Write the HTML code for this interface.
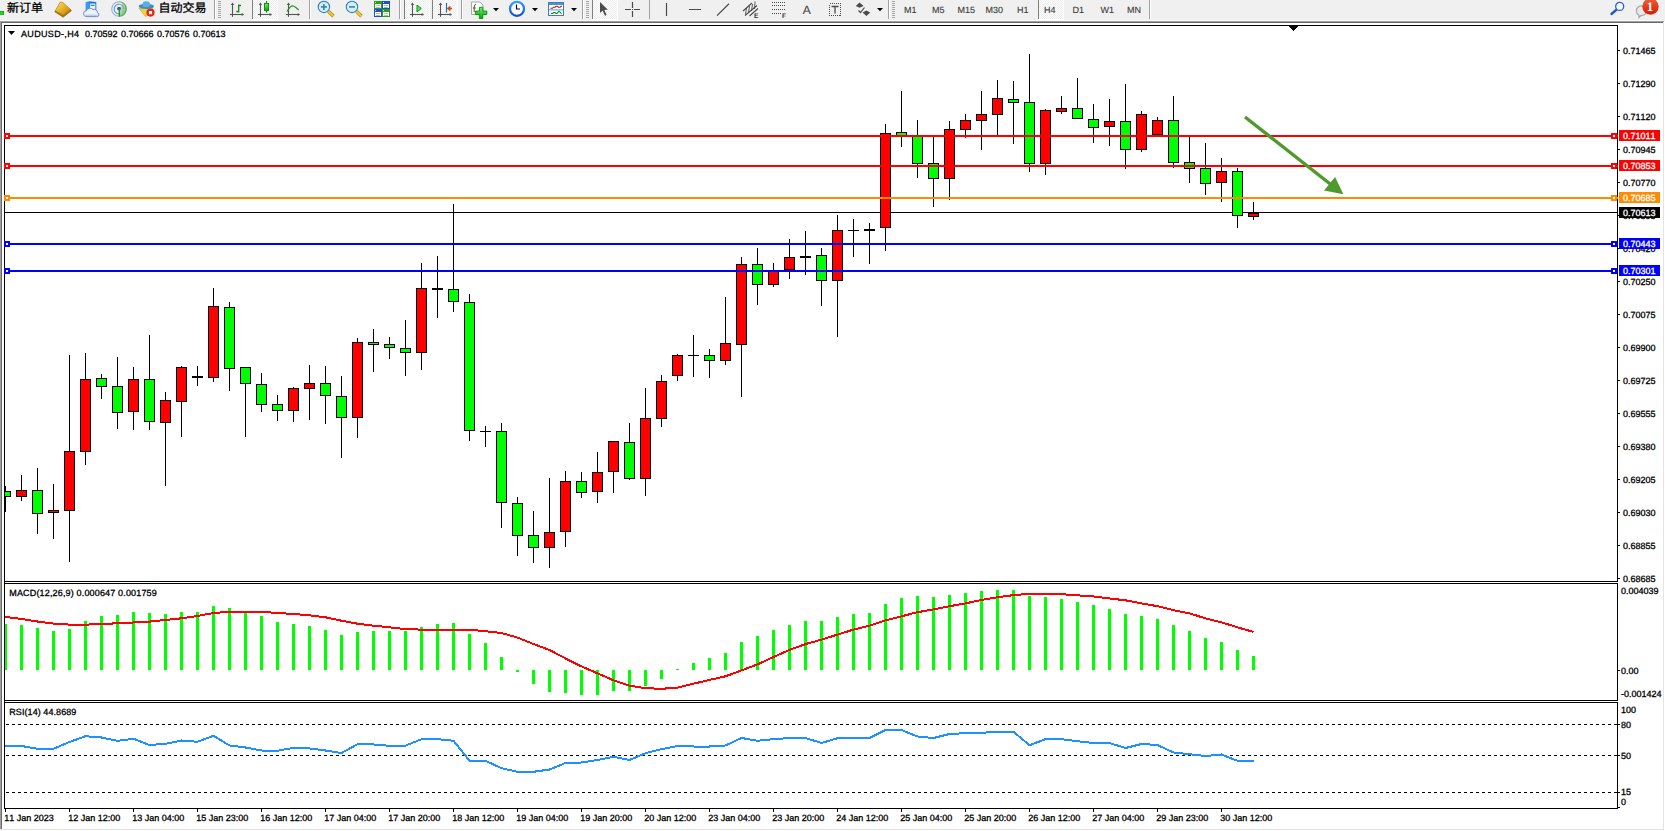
<!DOCTYPE html>
<html lang="zh-CN">
<head>
<meta charset="utf-8">
<title>AUDUSD-,H4</title>
<style>
html,body{margin:0;padding:0;background:#FFFFFF;overflow:hidden;}
body{width:1665px;height:831px;position:relative;font-family:"Liberation Sans","Noto Sans CJK SC",sans-serif;}
svg text{white-space:pre;font-kerning:none;}
</style>
</head>
<body>
<svg width="1665" height="831" viewBox="0 0 1665 831" style="display:block;position:absolute;left:0;top:0" text-rendering="geometricPrecision">
<rect x="0" y="0" width="1665" height="831" fill="#FFFFFF"/>
<rect x="0" y="0" width="1665" height="20" fill="#F0F0F0"/>
<rect x="0" y="20" width="1665" height="1" fill="#FAFAFA"/>
<rect x="0" y="21" width="1664" height="1" fill="#A0A0A0"/>
<rect x="1" y="22" width="1663" height="1" fill="#696969"/>
<rect x="0" y="21" width="1" height="808" fill="#A0A0A0"/>
<rect x="1" y="22" width="1" height="807" fill="#696969"/>
<rect x="1663" y="22" width="1" height="808" fill="#E3E3E3"/>
<rect x="0" y="829" width="1664" height="1" fill="#E3E3E3"/>
<rect x="1664" y="0" width="1" height="21" fill="#F0F0F0"/>
<g shape-rendering="crispEdges">
<rect x="4" y="25" width="1614" height="1" fill="#000"/>
<rect x="4" y="25" width="1" height="784" fill="#000"/>
<rect x="1617" y="25" width="1" height="784" fill="#000"/>
<rect x="4" y="581" width="1614" height="1" fill="#000"/>
<rect x="4" y="583" width="1614" height="1" fill="#000"/>
<rect x="4" y="700" width="1614" height="1" fill="#000"/>
<rect x="4" y="702" width="1614" height="1" fill="#000"/>
<rect x="4" y="808" width="1614" height="1" fill="#000"/>
<rect x="5" y="582" width="1613" height="1" fill="#FFF"/>
<rect x="5" y="701" width="1613" height="1" fill="#FFF"/>
<polygon points="1288.5,25.5 1298.5,25.5 1293.5,31" fill="#000"/>
<rect x="5" y="212" width="1612" height="1" fill="#000"/>
<rect x="5" y="486" width="1" height="26" fill="#000"/>
<rect x="5" y="491" width="6" height="6" fill="#000"/>
<rect x="5" y="492" width="5" height="4" fill="#00FF00"/>
<rect x="21" y="475" width="1" height="26" fill="#000"/>
<rect x="16" y="490" width="11" height="7" fill="#000"/>
<rect x="17" y="491" width="9" height="5" fill="#FF0000"/>
<rect x="37" y="468" width="1" height="66" fill="#000"/>
<rect x="32" y="490" width="11" height="24" fill="#000"/>
<rect x="33" y="491" width="9" height="22" fill="#00FF00"/>
<rect x="53" y="484" width="1" height="55" fill="#000"/>
<rect x="48" y="510" width="11" height="3" fill="#000"/>
<rect x="49" y="511" width="9" height="1" fill="#FF0000"/>
<rect x="69" y="355" width="1" height="207" fill="#000"/>
<rect x="64" y="451" width="11" height="60" fill="#000"/>
<rect x="65" y="452" width="9" height="58" fill="#FF0000"/>
<rect x="85" y="353" width="1" height="112" fill="#000"/>
<rect x="80" y="379" width="11" height="73" fill="#000"/>
<rect x="81" y="380" width="9" height="71" fill="#FF0000"/>
<rect x="101" y="374" width="1" height="25" fill="#000"/>
<rect x="96" y="378" width="11" height="9" fill="#000"/>
<rect x="97" y="379" width="9" height="7" fill="#00FF00"/>
<rect x="117" y="357" width="1" height="72" fill="#000"/>
<rect x="112" y="386" width="11" height="27" fill="#000"/>
<rect x="113" y="387" width="9" height="25" fill="#00FF00"/>
<rect x="133" y="367" width="1" height="63" fill="#000"/>
<rect x="128" y="379" width="11" height="33" fill="#000"/>
<rect x="129" y="380" width="9" height="31" fill="#FF0000"/>
<rect x="149" y="335" width="1" height="95" fill="#000"/>
<rect x="144" y="379" width="11" height="43" fill="#000"/>
<rect x="145" y="380" width="9" height="41" fill="#00FF00"/>
<rect x="165" y="392" width="1" height="94" fill="#000"/>
<rect x="160" y="400" width="11" height="23" fill="#000"/>
<rect x="161" y="401" width="9" height="21" fill="#FF0000"/>
<rect x="181" y="366" width="1" height="71" fill="#000"/>
<rect x="176" y="367" width="11" height="35" fill="#000"/>
<rect x="177" y="368" width="9" height="33" fill="#FF0000"/>
<rect x="197" y="366" width="1" height="20" fill="#000"/>
<rect x="192" y="376" width="11" height="2" fill="#000"/>
<rect x="213" y="288" width="1" height="94" fill="#000"/>
<rect x="208" y="306" width="11" height="72" fill="#000"/>
<rect x="209" y="307" width="9" height="70" fill="#FF0000"/>
<rect x="229" y="302" width="1" height="89" fill="#000"/>
<rect x="224" y="307" width="11" height="62" fill="#000"/>
<rect x="225" y="308" width="9" height="60" fill="#00FF00"/>
<rect x="245" y="367" width="1" height="70" fill="#000"/>
<rect x="240" y="367" width="11" height="17" fill="#000"/>
<rect x="241" y="368" width="9" height="15" fill="#00FF00"/>
<rect x="261" y="373" width="1" height="39" fill="#000"/>
<rect x="256" y="384" width="11" height="21" fill="#000"/>
<rect x="257" y="385" width="9" height="19" fill="#00FF00"/>
<rect x="277" y="395" width="1" height="26" fill="#000"/>
<rect x="272" y="404" width="11" height="7" fill="#000"/>
<rect x="273" y="405" width="9" height="5" fill="#00FF00"/>
<rect x="293" y="387" width="1" height="35" fill="#000"/>
<rect x="288" y="388" width="11" height="23" fill="#000"/>
<rect x="289" y="389" width="9" height="21" fill="#FF0000"/>
<rect x="309" y="365" width="1" height="55" fill="#000"/>
<rect x="304" y="383" width="11" height="6" fill="#000"/>
<rect x="305" y="384" width="9" height="4" fill="#FF0000"/>
<rect x="325" y="366" width="1" height="58" fill="#000"/>
<rect x="320" y="383" width="11" height="13" fill="#000"/>
<rect x="321" y="384" width="9" height="11" fill="#00FF00"/>
<rect x="341" y="376" width="1" height="82" fill="#000"/>
<rect x="336" y="396" width="11" height="22" fill="#000"/>
<rect x="337" y="397" width="9" height="20" fill="#00FF00"/>
<rect x="357" y="338" width="1" height="100" fill="#000"/>
<rect x="352" y="342" width="11" height="76" fill="#000"/>
<rect x="353" y="343" width="9" height="74" fill="#FF0000"/>
<rect x="373" y="329" width="1" height="43" fill="#000"/>
<rect x="368" y="342" width="11" height="3" fill="#000"/>
<rect x="369" y="343" width="9" height="1" fill="#00FF00"/>
<rect x="389" y="337" width="1" height="22" fill="#000"/>
<rect x="384" y="344" width="11" height="4" fill="#000"/>
<rect x="385" y="345" width="9" height="2" fill="#00FF00"/>
<rect x="405" y="320" width="1" height="56" fill="#000"/>
<rect x="400" y="348" width="11" height="5" fill="#000"/>
<rect x="401" y="349" width="9" height="3" fill="#00FF00"/>
<rect x="421" y="263" width="1" height="107" fill="#000"/>
<rect x="416" y="288" width="11" height="65" fill="#000"/>
<rect x="417" y="289" width="9" height="63" fill="#FF0000"/>
<rect x="437" y="256" width="1" height="62" fill="#000"/>
<rect x="432" y="288" width="11" height="2" fill="#000"/>
<rect x="453" y="204" width="1" height="108" fill="#000"/>
<rect x="448" y="289" width="11" height="13" fill="#000"/>
<rect x="449" y="290" width="9" height="11" fill="#00FF00"/>
<rect x="469" y="294" width="1" height="147" fill="#000"/>
<rect x="464" y="302" width="11" height="129" fill="#000"/>
<rect x="465" y="303" width="9" height="127" fill="#00FF00"/>
<rect x="485" y="426" width="1" height="21" fill="#000"/>
<rect x="480" y="431" width="11" height="1" fill="#000"/>
<rect x="501" y="423" width="1" height="105" fill="#000"/>
<rect x="496" y="431" width="11" height="72" fill="#000"/>
<rect x="497" y="432" width="9" height="70" fill="#00FF00"/>
<rect x="517" y="497" width="1" height="59" fill="#000"/>
<rect x="512" y="503" width="11" height="33" fill="#000"/>
<rect x="513" y="504" width="9" height="31" fill="#00FF00"/>
<rect x="533" y="511" width="1" height="52" fill="#000"/>
<rect x="528" y="535" width="11" height="13" fill="#000"/>
<rect x="529" y="536" width="9" height="11" fill="#00FF00"/>
<rect x="549" y="478" width="1" height="90" fill="#000"/>
<rect x="544" y="532" width="11" height="16" fill="#000"/>
<rect x="545" y="533" width="9" height="14" fill="#FF0000"/>
<rect x="565" y="471" width="1" height="76" fill="#000"/>
<rect x="560" y="481" width="11" height="51" fill="#000"/>
<rect x="561" y="482" width="9" height="49" fill="#FF0000"/>
<rect x="581" y="472" width="1" height="26" fill="#000"/>
<rect x="576" y="481" width="11" height="12" fill="#000"/>
<rect x="577" y="482" width="9" height="10" fill="#00FF00"/>
<rect x="597" y="452" width="1" height="51" fill="#000"/>
<rect x="592" y="472" width="11" height="20" fill="#000"/>
<rect x="593" y="473" width="9" height="18" fill="#FF0000"/>
<rect x="613" y="441" width="1" height="52" fill="#000"/>
<rect x="608" y="441" width="11" height="31" fill="#000"/>
<rect x="609" y="442" width="9" height="29" fill="#FF0000"/>
<rect x="629" y="423" width="1" height="57" fill="#000"/>
<rect x="624" y="442" width="11" height="37" fill="#000"/>
<rect x="625" y="443" width="9" height="35" fill="#00FF00"/>
<rect x="645" y="388" width="1" height="108" fill="#000"/>
<rect x="640" y="418" width="11" height="61" fill="#000"/>
<rect x="641" y="419" width="9" height="59" fill="#FF0000"/>
<rect x="661" y="375" width="1" height="52" fill="#000"/>
<rect x="656" y="381" width="11" height="38" fill="#000"/>
<rect x="657" y="382" width="9" height="36" fill="#FF0000"/>
<rect x="677" y="354" width="1" height="27" fill="#000"/>
<rect x="672" y="355" width="11" height="21" fill="#000"/>
<rect x="673" y="356" width="9" height="19" fill="#FF0000"/>
<rect x="693" y="335" width="1" height="42" fill="#000"/>
<rect x="688" y="355" width="11" height="1" fill="#000"/>
<rect x="709" y="349" width="1" height="29" fill="#000"/>
<rect x="704" y="355" width="11" height="6" fill="#000"/>
<rect x="705" y="356" width="9" height="4" fill="#00FF00"/>
<rect x="725" y="297" width="1" height="68" fill="#000"/>
<rect x="720" y="343" width="11" height="18" fill="#000"/>
<rect x="721" y="344" width="9" height="16" fill="#FF0000"/>
<rect x="741" y="257" width="1" height="140" fill="#000"/>
<rect x="736" y="264" width="11" height="81" fill="#000"/>
<rect x="737" y="265" width="9" height="79" fill="#FF0000"/>
<rect x="757" y="248" width="1" height="57" fill="#000"/>
<rect x="752" y="264" width="11" height="21" fill="#000"/>
<rect x="753" y="265" width="9" height="19" fill="#00FF00"/>
<rect x="773" y="263" width="1" height="24" fill="#000"/>
<rect x="768" y="270" width="11" height="15" fill="#000"/>
<rect x="769" y="271" width="9" height="13" fill="#FF0000"/>
<rect x="789" y="239" width="1" height="40" fill="#000"/>
<rect x="784" y="257" width="11" height="13" fill="#000"/>
<rect x="785" y="258" width="9" height="11" fill="#FF0000"/>
<rect x="805" y="231" width="1" height="44" fill="#000"/>
<rect x="800" y="256" width="11" height="2" fill="#000"/>
<rect x="821" y="248" width="1" height="58" fill="#000"/>
<rect x="816" y="255" width="11" height="26" fill="#000"/>
<rect x="817" y="256" width="9" height="24" fill="#00FF00"/>
<rect x="837" y="215" width="1" height="122" fill="#000"/>
<rect x="832" y="230" width="11" height="51" fill="#000"/>
<rect x="833" y="231" width="9" height="49" fill="#FF0000"/>
<rect x="853" y="219" width="1" height="38" fill="#000"/>
<rect x="848" y="230" width="11" height="1" fill="#000"/>
<rect x="869" y="223" width="1" height="41" fill="#000"/>
<rect x="864" y="229" width="11" height="2" fill="#000"/>
<rect x="885" y="124" width="1" height="127" fill="#000"/>
<rect x="880" y="133" width="11" height="95" fill="#000"/>
<rect x="881" y="134" width="9" height="93" fill="#FF0000"/>
<rect x="901" y="91" width="1" height="56" fill="#000"/>
<rect x="896" y="132" width="11" height="4" fill="#000"/>
<rect x="897" y="133" width="9" height="2" fill="#00FF00"/>
<rect x="917" y="120" width="1" height="58" fill="#000"/>
<rect x="912" y="136" width="11" height="28" fill="#000"/>
<rect x="913" y="137" width="9" height="26" fill="#00FF00"/>
<rect x="933" y="137" width="1" height="70" fill="#000"/>
<rect x="928" y="163" width="11" height="16" fill="#000"/>
<rect x="929" y="164" width="9" height="14" fill="#00FF00"/>
<rect x="949" y="121" width="1" height="79" fill="#000"/>
<rect x="944" y="129" width="11" height="50" fill="#000"/>
<rect x="945" y="130" width="9" height="48" fill="#FF0000"/>
<rect x="965" y="114" width="1" height="24" fill="#000"/>
<rect x="960" y="120" width="11" height="10" fill="#000"/>
<rect x="961" y="121" width="9" height="8" fill="#FF0000"/>
<rect x="981" y="91" width="1" height="59" fill="#000"/>
<rect x="976" y="114" width="11" height="7" fill="#000"/>
<rect x="977" y="115" width="9" height="5" fill="#FF0000"/>
<rect x="997" y="80" width="1" height="55" fill="#000"/>
<rect x="992" y="98" width="11" height="17" fill="#000"/>
<rect x="993" y="99" width="9" height="15" fill="#FF0000"/>
<rect x="1013" y="81" width="1" height="63" fill="#000"/>
<rect x="1008" y="99" width="11" height="4" fill="#000"/>
<rect x="1009" y="100" width="9" height="2" fill="#00FF00"/>
<rect x="1029" y="54" width="1" height="118" fill="#000"/>
<rect x="1024" y="102" width="11" height="62" fill="#000"/>
<rect x="1025" y="103" width="9" height="60" fill="#00FF00"/>
<rect x="1045" y="109" width="1" height="66" fill="#000"/>
<rect x="1040" y="110" width="11" height="54" fill="#000"/>
<rect x="1041" y="111" width="9" height="52" fill="#FF0000"/>
<rect x="1061" y="96" width="1" height="18" fill="#000"/>
<rect x="1056" y="108" width="11" height="4" fill="#000"/>
<rect x="1057" y="109" width="9" height="2" fill="#FF0000"/>
<rect x="1077" y="78" width="1" height="41" fill="#000"/>
<rect x="1072" y="108" width="11" height="11" fill="#000"/>
<rect x="1073" y="109" width="9" height="9" fill="#00FF00"/>
<rect x="1093" y="104" width="1" height="39" fill="#000"/>
<rect x="1088" y="119" width="11" height="9" fill="#000"/>
<rect x="1089" y="120" width="9" height="7" fill="#00FF00"/>
<rect x="1109" y="99" width="1" height="47" fill="#000"/>
<rect x="1104" y="121" width="11" height="6" fill="#000"/>
<rect x="1105" y="122" width="9" height="4" fill="#FF0000"/>
<rect x="1125" y="84" width="1" height="85" fill="#000"/>
<rect x="1120" y="121" width="11" height="29" fill="#000"/>
<rect x="1121" y="122" width="9" height="27" fill="#00FF00"/>
<rect x="1141" y="111" width="1" height="41" fill="#000"/>
<rect x="1136" y="114" width="11" height="36" fill="#000"/>
<rect x="1137" y="115" width="9" height="34" fill="#FF0000"/>
<rect x="1157" y="117" width="1" height="18" fill="#000"/>
<rect x="1152" y="120" width="11" height="15" fill="#000"/>
<rect x="1153" y="121" width="9" height="13" fill="#FF0000"/>
<rect x="1173" y="96" width="1" height="72" fill="#000"/>
<rect x="1168" y="120" width="11" height="43" fill="#000"/>
<rect x="1169" y="121" width="9" height="41" fill="#00FF00"/>
<rect x="1189" y="137" width="1" height="46" fill="#000"/>
<rect x="1184" y="162" width="11" height="7" fill="#000"/>
<rect x="1185" y="163" width="9" height="5" fill="#00FF00"/>
<rect x="1205" y="143" width="1" height="52" fill="#000"/>
<rect x="1200" y="168" width="11" height="16" fill="#000"/>
<rect x="1201" y="169" width="9" height="14" fill="#00FF00"/>
<rect x="1221" y="158" width="1" height="44" fill="#000"/>
<rect x="1216" y="171" width="11" height="12" fill="#000"/>
<rect x="1217" y="172" width="9" height="10" fill="#FF0000"/>
<rect x="1237" y="168" width="1" height="60" fill="#000"/>
<rect x="1232" y="171" width="11" height="45" fill="#000"/>
<rect x="1233" y="172" width="9" height="43" fill="#00FF00"/>
<rect x="1253" y="202" width="1" height="18" fill="#000"/>
<rect x="1248" y="213" width="11" height="4" fill="#000"/>
<rect x="1249" y="214" width="9" height="2" fill="#FF0000"/>
<rect x="5" y="135" width="1613" height="2" fill="#FF0000"/>
<rect x="4" y="133" width="6" height="6" fill="#FF0000"/>
<rect x="6" y="135" width="2" height="2" fill="#FFF"/>
<rect x="1611" y="133" width="6" height="6" fill="#FF0000"/>
<rect x="1613" y="135" width="2" height="2" fill="#FFF"/>
<rect x="5" y="165" width="1613" height="2" fill="#FF0000"/>
<rect x="4" y="163" width="6" height="6" fill="#FF0000"/>
<rect x="6" y="165" width="2" height="2" fill="#FFF"/>
<rect x="1611" y="163" width="6" height="6" fill="#FF0000"/>
<rect x="1613" y="165" width="2" height="2" fill="#FFF"/>
<rect x="5" y="197" width="1613" height="2" fill="#FF8C00"/>
<rect x="4" y="195" width="6" height="6" fill="#FF8C00"/>
<rect x="6" y="197" width="2" height="2" fill="#FFF"/>
<rect x="1611" y="195" width="6" height="6" fill="#FF8C00"/>
<rect x="1613" y="197" width="2" height="2" fill="#FFF"/>
<rect x="5" y="243" width="1613" height="2" fill="#0000FF"/>
<rect x="4" y="241" width="6" height="6" fill="#0000FF"/>
<rect x="6" y="243" width="2" height="2" fill="#FFF"/>
<rect x="1611" y="241" width="6" height="6" fill="#0000FF"/>
<rect x="1613" y="243" width="2" height="2" fill="#FFF"/>
<rect x="5" y="270" width="1613" height="2" fill="#0000FF"/>
<rect x="4" y="268" width="6" height="6" fill="#0000FF"/>
<rect x="6" y="270" width="2" height="2" fill="#FFF"/>
<rect x="1611" y="268" width="6" height="6" fill="#0000FF"/>
<rect x="1613" y="270" width="2" height="2" fill="#FFF"/>
<rect x="5" y="624" width="2" height="46" fill="#00FF00"/>
<rect x="20" y="625" width="3" height="45" fill="#00FF00"/>
<rect x="36" y="628" width="3" height="42" fill="#00FF00"/>
<rect x="52" y="631" width="3" height="39" fill="#00FF00"/>
<rect x="68" y="629" width="3" height="41" fill="#00FF00"/>
<rect x="84" y="621" width="3" height="49" fill="#00FF00"/>
<rect x="100" y="616" width="3" height="54" fill="#00FF00"/>
<rect x="116" y="615" width="3" height="55" fill="#00FF00"/>
<rect x="132" y="612" width="3" height="58" fill="#00FF00"/>
<rect x="148" y="613" width="3" height="57" fill="#00FF00"/>
<rect x="164" y="614" width="3" height="56" fill="#00FF00"/>
<rect x="180" y="612" width="3" height="58" fill="#00FF00"/>
<rect x="196" y="612" width="3" height="58" fill="#00FF00"/>
<rect x="212" y="606" width="3" height="64" fill="#00FF00"/>
<rect x="228" y="608" width="3" height="62" fill="#00FF00"/>
<rect x="244" y="612" width="3" height="58" fill="#00FF00"/>
<rect x="260" y="616" width="3" height="54" fill="#00FF00"/>
<rect x="276" y="622" width="3" height="48" fill="#00FF00"/>
<rect x="292" y="624" width="3" height="46" fill="#00FF00"/>
<rect x="308" y="626" width="3" height="44" fill="#00FF00"/>
<rect x="324" y="630" width="3" height="40" fill="#00FF00"/>
<rect x="340" y="635" width="3" height="35" fill="#00FF00"/>
<rect x="356" y="632" width="3" height="38" fill="#00FF00"/>
<rect x="372" y="631" width="3" height="39" fill="#00FF00"/>
<rect x="388" y="631" width="3" height="39" fill="#00FF00"/>
<rect x="404" y="631" width="3" height="39" fill="#00FF00"/>
<rect x="420" y="627" width="3" height="43" fill="#00FF00"/>
<rect x="436" y="624" width="3" height="46" fill="#00FF00"/>
<rect x="452" y="623" width="3" height="47" fill="#00FF00"/>
<rect x="468" y="634" width="3" height="36" fill="#00FF00"/>
<rect x="484" y="643" width="3" height="27" fill="#00FF00"/>
<rect x="500" y="657" width="3" height="13" fill="#00FF00"/>
<rect x="516" y="670" width="3" height="2" fill="#00FF00"/>
<rect x="532" y="670" width="3" height="14" fill="#00FF00"/>
<rect x="548" y="670" width="3" height="22" fill="#00FF00"/>
<rect x="564" y="670" width="3" height="23" fill="#00FF00"/>
<rect x="580" y="670" width="3" height="25" fill="#00FF00"/>
<rect x="596" y="670" width="3" height="25" fill="#00FF00"/>
<rect x="612" y="670" width="3" height="21" fill="#00FF00"/>
<rect x="628" y="670" width="3" height="21" fill="#00FF00"/>
<rect x="644" y="670" width="3" height="16" fill="#00FF00"/>
<rect x="660" y="670" width="3" height="9" fill="#00FF00"/>
<rect x="676" y="669" width="3" height="1" fill="#00FF00"/>
<rect x="692" y="663" width="3" height="7" fill="#00FF00"/>
<rect x="708" y="658" width="3" height="12" fill="#00FF00"/>
<rect x="724" y="653" width="3" height="17" fill="#00FF00"/>
<rect x="740" y="642" width="3" height="28" fill="#00FF00"/>
<rect x="756" y="636" width="3" height="34" fill="#00FF00"/>
<rect x="772" y="630" width="3" height="40" fill="#00FF00"/>
<rect x="788" y="625" width="3" height="45" fill="#00FF00"/>
<rect x="804" y="621" width="3" height="49" fill="#00FF00"/>
<rect x="820" y="621" width="3" height="49" fill="#00FF00"/>
<rect x="836" y="617" width="3" height="53" fill="#00FF00"/>
<rect x="852" y="614" width="3" height="56" fill="#00FF00"/>
<rect x="868" y="613" width="3" height="57" fill="#00FF00"/>
<rect x="884" y="604" width="3" height="66" fill="#00FF00"/>
<rect x="900" y="598" width="3" height="72" fill="#00FF00"/>
<rect x="916" y="596" width="3" height="74" fill="#00FF00"/>
<rect x="932" y="597" width="3" height="73" fill="#00FF00"/>
<rect x="948" y="595" width="3" height="75" fill="#00FF00"/>
<rect x="964" y="593" width="3" height="77" fill="#00FF00"/>
<rect x="980" y="591" width="3" height="79" fill="#00FF00"/>
<rect x="996" y="590" width="3" height="80" fill="#00FF00"/>
<rect x="1012" y="590" width="3" height="80" fill="#00FF00"/>
<rect x="1028" y="596" width="3" height="74" fill="#00FF00"/>
<rect x="1044" y="597" width="3" height="73" fill="#00FF00"/>
<rect x="1060" y="599" width="3" height="71" fill="#00FF00"/>
<rect x="1076" y="602" width="3" height="68" fill="#00FF00"/>
<rect x="1092" y="605" width="3" height="65" fill="#00FF00"/>
<rect x="1108" y="609" width="3" height="61" fill="#00FF00"/>
<rect x="1124" y="614" width="3" height="56" fill="#00FF00"/>
<rect x="1140" y="616" width="3" height="54" fill="#00FF00"/>
<rect x="1156" y="619" width="3" height="51" fill="#00FF00"/>
<rect x="1172" y="625" width="3" height="45" fill="#00FF00"/>
<rect x="1188" y="631" width="3" height="39" fill="#00FF00"/>
<rect x="1204" y="638" width="3" height="32" fill="#00FF00"/>
<rect x="1220" y="642" width="3" height="28" fill="#00FF00"/>
<rect x="1236" y="650" width="3" height="20" fill="#00FF00"/>
<rect x="1252" y="656" width="3" height="14" fill="#00FF00"/>
</g>
<polyline points="5,617 5.5,617.0 21.5,619.0 37.5,621.5 53.5,623.6 69.5,624.6 85.5,624.6 101.5,624.2 117.5,623.2 133.5,622.5 149.5,621.6 165.5,620.0 181.5,618.3 197.5,616.0 213.5,613.0 229.5,611.7 245.5,611.7 261.5,611.7 277.5,613.0 293.5,614.0 309.5,615.3 325.5,617.3 341.5,620.7 357.5,623.7 373.5,625.7 389.5,627.3 405.5,629.2 421.5,629.6 437.5,629.6 453.5,629.6 469.5,629.8 485.5,631.2 501.5,633.0 517.5,637.6 533.5,644.0 549.5,650.0 565.5,658.4 581.5,666.4 597.5,673.3 613.5,680.3 629.5,685.6 645.5,688.2 661.5,688.8 677.5,687.6 693.5,683.7 709.5,679.9 725.5,676.3 741.5,670.4 757.5,664.4 773.5,657.0 789.5,649.9 805.5,644.1 821.5,639.6 837.5,634.6 853.5,629.6 869.5,625.7 885.5,620.3 901.5,616.3 917.5,612.2 933.5,609.4 949.5,606.2 965.5,603.4 981.5,599.9 997.5,597.3 1013.5,595.1 1029.5,593.9 1045.5,593.9 1061.5,594.2 1077.5,595.3 1093.5,596.5 1109.5,598.5 1125.5,600.3 1141.5,603.4 1157.5,606.2 1173.5,610.2 1189.5,613.4 1205.5,618.3 1221.5,622.3 1237.5,627.3 1253.5,632.0" fill="none" stroke="#FF0000" stroke-width="2" stroke-linejoin="round" shape-rendering="crispEdges"/>
<g shape-rendering="crispEdges">
<line x1="6" y1="724.5" x2="1617" y2="724.5" stroke="#000" stroke-width="1" stroke-dasharray="3 3"/>
<line x1="6" y1="755.5" x2="1617" y2="755.5" stroke="#000" stroke-width="1" stroke-dasharray="3 3"/>
<line x1="6" y1="792.5" x2="1617" y2="792.5" stroke="#000" stroke-width="1" stroke-dasharray="3 3"/>
</g>
<polyline points="5,746 5.5,746.0 21.5,746.0 37.5,748.8 53.5,748.8 69.5,742.0 85.5,736.2 101.5,737.5 117.5,740.8 133.5,738.8 149.5,745.0 165.5,743.8 181.5,740.5 197.5,741.8 213.5,735.8 229.5,745.5 245.5,747.5 261.5,750.5 277.5,750.8 293.5,747.8 309.5,748.5 325.5,750.5 341.5,753.0 357.5,744.2 373.5,744.5 389.5,745.8 405.5,745.6 421.5,739.2 437.5,739.2 453.5,740.8 469.5,760.8 485.5,760.8 501.5,768.2 517.5,771.8 533.5,771.8 549.5,769.5 565.5,763.0 581.5,762.5 597.5,760.0 613.5,756.8 629.5,760.0 645.5,753.2 661.5,749.2 677.5,746.0 693.5,746.5 709.5,746.5 725.5,745.5 741.5,738.0 757.5,740.8 773.5,739.2 789.5,738.0 805.5,738.0 821.5,743.0 837.5,738.2 853.5,738.0 869.5,738.0 885.5,730.0 901.5,730.0 917.5,736.5 933.5,738.0 949.5,734.0 965.5,733.2 981.5,732.8 997.5,731.8 1013.5,731.8 1029.5,745.2 1045.5,739.2 1061.5,739.2 1077.5,741.2 1093.5,743.0 1109.5,743.0 1125.5,748.0 1141.5,744.0 1157.5,745.0 1173.5,752.5 1189.5,754.2 1205.5,756.0 1221.5,754.5 1237.5,760.8 1253.5,760.8" fill="none" stroke="#1E90FF" stroke-width="2" stroke-linejoin="round" shape-rendering="crispEdges"/>
<line x1="1245" y1="117" x2="1334" y2="187" stroke="#4E9A2E" stroke-width="3.4"/>
<polygon points="1343.4,194.2 1335.1,177 1324,190.6" fill="#4E9A2E"/>
<g shape-rendering="crispEdges">
<rect x="1618" y="50" width="2" height="1" fill="#000"/>
<rect x="1618" y="83" width="2" height="1" fill="#000"/>
<rect x="1618" y="116" width="2" height="1" fill="#000"/>
<rect x="1618" y="149" width="2" height="1" fill="#000"/>
<rect x="1618" y="182" width="2" height="1" fill="#000"/>
<rect x="1618" y="215" width="2" height="1" fill="#000"/>
<rect x="1618" y="248" width="2" height="1" fill="#000"/>
<rect x="1618" y="281" width="2" height="1" fill="#000"/>
<rect x="1618" y="314" width="2" height="1" fill="#000"/>
<rect x="1618" y="347" width="2" height="1" fill="#000"/>
<rect x="1618" y="380" width="2" height="1" fill="#000"/>
<rect x="1618" y="413" width="2" height="1" fill="#000"/>
<rect x="1618" y="446" width="2" height="1" fill="#000"/>
<rect x="1618" y="479" width="2" height="1" fill="#000"/>
<rect x="1618" y="512" width="2" height="1" fill="#000"/>
<rect x="1618" y="545" width="2" height="1" fill="#000"/>
<rect x="1618" y="578" width="2" height="1" fill="#000"/>
</g>
<text x="1623" y="54" font-size="9" fill="#000" stroke="#000" stroke-width="0.3" font-family="Liberation Sans, sans-serif" >0.71465</text>
<text x="1623" y="87" font-size="9" fill="#000" stroke="#000" stroke-width="0.3" font-family="Liberation Sans, sans-serif" >0.71290</text>
<text x="1623" y="120" font-size="9" fill="#000" stroke="#000" stroke-width="0.3" font-family="Liberation Sans, sans-serif" >0.71120</text>
<text x="1623" y="153" font-size="9" fill="#000" stroke="#000" stroke-width="0.3" font-family="Liberation Sans, sans-serif" >0.70945</text>
<text x="1623" y="186" font-size="9" fill="#000" stroke="#000" stroke-width="0.3" font-family="Liberation Sans, sans-serif" >0.70770</text>
<text x="1623" y="219" font-size="9" fill="#000" stroke="#000" stroke-width="0.3" font-family="Liberation Sans, sans-serif" >0.70595</text>
<text x="1623" y="252" font-size="9" fill="#000" stroke="#000" stroke-width="0.3" font-family="Liberation Sans, sans-serif" >0.70420</text>
<text x="1623" y="285" font-size="9" fill="#000" stroke="#000" stroke-width="0.3" font-family="Liberation Sans, sans-serif" >0.70250</text>
<text x="1623" y="318" font-size="9" fill="#000" stroke="#000" stroke-width="0.3" font-family="Liberation Sans, sans-serif" >0.70075</text>
<text x="1623" y="351" font-size="9" fill="#000" stroke="#000" stroke-width="0.3" font-family="Liberation Sans, sans-serif" >0.69900</text>
<text x="1623" y="384" font-size="9" fill="#000" stroke="#000" stroke-width="0.3" font-family="Liberation Sans, sans-serif" >0.69725</text>
<text x="1623" y="417" font-size="9" fill="#000" stroke="#000" stroke-width="0.3" font-family="Liberation Sans, sans-serif" >0.69555</text>
<text x="1623" y="450" font-size="9" fill="#000" stroke="#000" stroke-width="0.3" font-family="Liberation Sans, sans-serif" >0.69380</text>
<text x="1623" y="483" font-size="9" fill="#000" stroke="#000" stroke-width="0.3" font-family="Liberation Sans, sans-serif" >0.69205</text>
<text x="1623" y="516" font-size="9" fill="#000" stroke="#000" stroke-width="0.3" font-family="Liberation Sans, sans-serif" >0.69030</text>
<text x="1623" y="549" font-size="9" fill="#000" stroke="#000" stroke-width="0.3" font-family="Liberation Sans, sans-serif" >0.68855</text>
<text x="1623" y="582" font-size="9" fill="#000" stroke="#000" stroke-width="0.3" font-family="Liberation Sans, sans-serif" >0.68685</text>
<text x="1621" y="594" font-size="9" fill="#000" stroke="#000" stroke-width="0.3" font-family="Liberation Sans, sans-serif" >0.004039</text>
<text x="1621" y="674" font-size="9" fill="#000" stroke="#000" stroke-width="0.3" font-family="Liberation Sans, sans-serif" >0.00</text>
<text x="1621" y="697" font-size="9" fill="#000" stroke="#000" stroke-width="0.3" font-family="Liberation Sans, sans-serif" >-0.001424</text>
<text x="1621" y="713" font-size="9" fill="#000" stroke="#000" stroke-width="0.3" font-family="Liberation Sans, sans-serif" >100</text>
<text x="1621" y="728" font-size="9" fill="#000" stroke="#000" stroke-width="0.3" font-family="Liberation Sans, sans-serif" >80</text>
<text x="1621" y="759" font-size="9" fill="#000" stroke="#000" stroke-width="0.3" font-family="Liberation Sans, sans-serif" >50</text>
<text x="1621" y="795" font-size="9" fill="#000" stroke="#000" stroke-width="0.3" font-family="Liberation Sans, sans-serif" >15</text>
<text x="1621" y="805" font-size="9" fill="#000" stroke="#000" stroke-width="0.3" font-family="Liberation Sans, sans-serif" >0</text>
<g shape-rendering="crispEdges">
<rect x="1618" y="670" width="2" height="1" fill="#000"/>
<rect x="1618" y="724" width="2" height="1" fill="#000"/>
<rect x="1618" y="755" width="2" height="1" fill="#000"/>
<rect x="1618" y="792" width="2" height="1" fill="#000"/>
<rect x="1618" y="807" width="2" height="1" fill="#000"/>
</g>
<rect x="1619" y="130" width="41" height="11" fill="#FF0000" shape-rendering="crispEdges"/>
<text x="1623" y="139" font-size="9" fill="#FFF" stroke="#FFF" stroke-width="0.3" font-family="Liberation Sans, sans-serif" >0.71011</text>
<rect x="1619" y="160" width="41" height="11" fill="#FF0000" shape-rendering="crispEdges"/>
<text x="1623" y="169" font-size="9" fill="#FFF" stroke="#FFF" stroke-width="0.3" font-family="Liberation Sans, sans-serif" >0.70853</text>
<rect x="1619" y="192" width="41" height="11" fill="#FF8C00" shape-rendering="crispEdges"/>
<text x="1623" y="201" font-size="9" fill="#FFF" stroke="#FFF" stroke-width="0.3" font-family="Liberation Sans, sans-serif" >0.70685</text>
<rect x="1619" y="207" width="41" height="11" fill="#000000" shape-rendering="crispEdges"/>
<text x="1623" y="216" font-size="9" fill="#FFF" stroke="#FFF" stroke-width="0.3" font-family="Liberation Sans, sans-serif" >0.70613</text>
<rect x="1619" y="238" width="41" height="11" fill="#0000FF" shape-rendering="crispEdges"/>
<text x="1623" y="247" font-size="9" fill="#FFF" stroke="#FFF" stroke-width="0.3" font-family="Liberation Sans, sans-serif" >0.70443</text>
<rect x="1619" y="265" width="41" height="11" fill="#0000FF" shape-rendering="crispEdges"/>
<text x="1623" y="274" font-size="9" fill="#FFF" stroke="#FFF" stroke-width="0.3" font-family="Liberation Sans, sans-serif" >0.70301</text>
<g shape-rendering="crispEdges">
<rect x="5" y="809" width="1" height="3" fill="#000"/>
<rect x="69" y="809" width="1" height="3" fill="#000"/>
<rect x="133" y="809" width="1" height="3" fill="#000"/>
<rect x="197" y="809" width="1" height="3" fill="#000"/>
<rect x="261" y="809" width="1" height="3" fill="#000"/>
<rect x="325" y="809" width="1" height="3" fill="#000"/>
<rect x="389" y="809" width="1" height="3" fill="#000"/>
<rect x="453" y="809" width="1" height="3" fill="#000"/>
<rect x="517" y="809" width="1" height="3" fill="#000"/>
<rect x="581" y="809" width="1" height="3" fill="#000"/>
<rect x="645" y="809" width="1" height="3" fill="#000"/>
<rect x="709" y="809" width="1" height="3" fill="#000"/>
<rect x="773" y="809" width="1" height="3" fill="#000"/>
<rect x="837" y="809" width="1" height="3" fill="#000"/>
<rect x="901" y="809" width="1" height="3" fill="#000"/>
<rect x="965" y="809" width="1" height="3" fill="#000"/>
<rect x="1029" y="809" width="1" height="3" fill="#000"/>
<rect x="1093" y="809" width="1" height="3" fill="#000"/>
<rect x="1157" y="809" width="1" height="3" fill="#000"/>
<rect x="1221" y="809" width="1" height="3" fill="#000"/>
</g>
<text x="4.2" y="820.8" font-size="9" fill="#000" stroke="#000" stroke-width="0.3" font-family="Liberation Sans, sans-serif" >11 Jan 2023</text>
<text x="68.2" y="820.8" font-size="9" fill="#000" stroke="#000" stroke-width="0.3" font-family="Liberation Sans, sans-serif" >12 Jan 12:00</text>
<text x="132.2" y="820.8" font-size="9" fill="#000" stroke="#000" stroke-width="0.3" font-family="Liberation Sans, sans-serif" >13 Jan 04:00</text>
<text x="196.2" y="820.8" font-size="9" fill="#000" stroke="#000" stroke-width="0.3" font-family="Liberation Sans, sans-serif" >15 Jan 23:00</text>
<text x="260.2" y="820.8" font-size="9" fill="#000" stroke="#000" stroke-width="0.3" font-family="Liberation Sans, sans-serif" >16 Jan 12:00</text>
<text x="324.2" y="820.8" font-size="9" fill="#000" stroke="#000" stroke-width="0.3" font-family="Liberation Sans, sans-serif" >17 Jan 04:00</text>
<text x="388.2" y="820.8" font-size="9" fill="#000" stroke="#000" stroke-width="0.3" font-family="Liberation Sans, sans-serif" >17 Jan 20:00</text>
<text x="452.2" y="820.8" font-size="9" fill="#000" stroke="#000" stroke-width="0.3" font-family="Liberation Sans, sans-serif" >18 Jan 12:00</text>
<text x="516.2" y="820.8" font-size="9" fill="#000" stroke="#000" stroke-width="0.3" font-family="Liberation Sans, sans-serif" >19 Jan 04:00</text>
<text x="580.2" y="820.8" font-size="9" fill="#000" stroke="#000" stroke-width="0.3" font-family="Liberation Sans, sans-serif" >19 Jan 20:00</text>
<text x="644.2" y="820.8" font-size="9" fill="#000" stroke="#000" stroke-width="0.3" font-family="Liberation Sans, sans-serif" >20 Jan 12:00</text>
<text x="708.2" y="820.8" font-size="9" fill="#000" stroke="#000" stroke-width="0.3" font-family="Liberation Sans, sans-serif" >23 Jan 04:00</text>
<text x="772.2" y="820.8" font-size="9" fill="#000" stroke="#000" stroke-width="0.3" font-family="Liberation Sans, sans-serif" >23 Jan 20:00</text>
<text x="836.2" y="820.8" font-size="9" fill="#000" stroke="#000" stroke-width="0.3" font-family="Liberation Sans, sans-serif" >24 Jan 12:00</text>
<text x="900.2" y="820.8" font-size="9" fill="#000" stroke="#000" stroke-width="0.3" font-family="Liberation Sans, sans-serif" >25 Jan 04:00</text>
<text x="964.2" y="820.8" font-size="9" fill="#000" stroke="#000" stroke-width="0.3" font-family="Liberation Sans, sans-serif" >25 Jan 20:00</text>
<text x="1028.2" y="820.8" font-size="9" fill="#000" stroke="#000" stroke-width="0.3" font-family="Liberation Sans, sans-serif" >26 Jan 12:00</text>
<text x="1092.2" y="820.8" font-size="9" fill="#000" stroke="#000" stroke-width="0.3" font-family="Liberation Sans, sans-serif" >27 Jan 04:00</text>
<text x="1156.2" y="820.8" font-size="9" fill="#000" stroke="#000" stroke-width="0.3" font-family="Liberation Sans, sans-serif" >29 Jan 23:00</text>
<text x="1220.2" y="820.8" font-size="9" fill="#000" stroke="#000" stroke-width="0.3" font-family="Liberation Sans, sans-serif" >30 Jan 12:00</text>
<polygon points="8,31 15,31 11.5,35" fill="#000"/>
<text x="21" y="37" font-size="9" fill="#000" stroke="#000" stroke-width="0.3" textLength="58" lengthAdjust="spacing" font-family="Liberation Sans, sans-serif" >AUDUSD-,H4</text>
<text x="85" y="37" font-size="9" fill="#000" stroke="#000" stroke-width="0.3" font-family="Liberation Sans, sans-serif" >0.70592</text>
<text x="121" y="37" font-size="9" fill="#000" stroke="#000" stroke-width="0.3" font-family="Liberation Sans, sans-serif" >0.70666</text>
<text x="157" y="37" font-size="9" fill="#000" stroke="#000" stroke-width="0.3" font-family="Liberation Sans, sans-serif" >0.70576</text>
<text x="193" y="37" font-size="9" fill="#000" stroke="#000" stroke-width="0.3" font-family="Liberation Sans, sans-serif" >0.70613</text>
<text x="9.3" y="595.5" font-size="9" fill="#000" stroke="#000" stroke-width="0.3" textLength="147.5" lengthAdjust="spacing" font-family="Liberation Sans, sans-serif" >MACD(12,26,9) 0.000647 0.001759</text>
<text x="9.3" y="714.5" font-size="9" fill="#000" stroke="#000" stroke-width="0.3" textLength="67" lengthAdjust="spacing" font-family="Liberation Sans, sans-serif" >RSI(14) 44.8689</text>
<defs><pattern id="chk" width="2" height="2" patternUnits="userSpaceOnUse"><rect width="2" height="2" fill="#FFFFFF"/><rect width="1" height="1" fill="#EDEDED"/><rect x="1" y="1" width="1" height="1" fill="#EDEDED"/></pattern><linearGradient id="gold" x1="0" y1="0" x2="1" y2="1"><stop offset="0" stop-color="#F8E070"/><stop offset="0.6" stop-color="#E0A818"/><stop offset="1" stop-color="#B07808"/></linearGradient><linearGradient id="redb" x1="0" y1="0" x2="0" y2="1"><stop offset="0" stop-color="#E8643C"/><stop offset="1" stop-color="#DC1800"/></linearGradient><linearGradient id="blu" x1="0" y1="0" x2="0" y2="1"><stop offset="0" stop-color="#38A0F8"/><stop offset="1" stop-color="#1050C0"/></linearGradient><linearGradient id="grn" x1="0" y1="0" x2="0" y2="1"><stop offset="0" stop-color="#70F070"/><stop offset="1" stop-color="#08A008"/></linearGradient></defs>
<rect x="0" y="11" width="4" height="3.8" fill="#0C9C0C"/>
<rect x="0" y="11.6" width="3.4" height="2.6" fill="#18E018"/>
<text x="7" y="12.3" font-size="12" fill="#000" stroke="#000" stroke-width="0.3" font-family="Liberation Sans, 'Noto Sans CJK SC', sans-serif" >新订单</text>
<polygon points="70.5,9.5 71.4,10.8 63.2,17.2 54.8,11.8 55.3,10.8 63.3,15.2" fill="#B07C14" stroke="#8A5A08" stroke-width="0.6"/>
<path d="M60 2.3 Q61.5 1.8 63 2.6 L70.5 9.5 L63.3 15.2 L55.3 10.8 Z" fill="url(#gold)" stroke="#A87010" stroke-width="0.6"/>
<polygon points="85.6,2.2 89,1.2 89,11 85.6,11" fill="#28A0F8"/>
<polygon points="89,1.2 96.3,2 96.3,11 89,11" fill="#2078E0"/>
<rect x="89.8" y="3.6" width="5.6" height="6" fill="#E8F4FF"/>
<rect x="90.6" y="4.8" width="4" height="1.1" fill="#3080D0"/>
<path d="M86 16.6 a3.2 3 0 0 1 0.3 -5.9 a3.8 3.6 0 0 1 6.6 -1.2 a3.4 3.2 0 0 1 4.6 3.2 a2.1 2 0 0 1 -0.8 3.9 z" fill="#EEF3FB" stroke="#6080C0" stroke-width="0.9"/>
<path d="M85.5 15.2 H97.5" stroke="#B8C8E8" stroke-width="1.3"/>
<defs><linearGradient id="sigg" x1="0" y1="0" x2="1" y2="1"><stop offset="0" stop-color="#C8E0C0" stop-opacity="0.5"/><stop offset="1" stop-color="#3CA03C" stop-opacity="0.9"/></linearGradient></defs>
<path d="M119 9 L119 16.8 A7.8 7.8 0 0 0 122.5 2.1 Z" fill="url(#sigg)"/>
<g fill="none" stroke="#4878D8" stroke-width="1.1"><path d="M119 16.3 A7.3 7.3 0 0 1 119 1.7" stroke-opacity="0.55"/><path d="M119 1.7 A7.3 7.3 0 0 1 119 16.3" stroke="#58A058" stroke-opacity="0.8"/><path d="M119 13.9 A4.9 4.9 0 0 1 119 4.1" stroke-opacity="0.8"/><path d="M119 4.1 A4.9 4.9 0 0 1 123.9 9" stroke="#70A8A0" stroke-opacity="0.8"/></g>
<circle cx="119" cy="8.6" r="1.9" fill="#2858D0"/>
<line x1="119.3" y1="9" x2="119.3" y2="16.6" stroke="#18A018" stroke-width="1.4"/>
<polygon points="139,8.5 153,7 150,14 145.5,16.5" fill="#F0D040" stroke="#C8A020" stroke-width="0.6"/>
<ellipse cx="146.3" cy="6.3" rx="7.7" ry="2.6" fill="#3890C8"/>
<ellipse cx="146.3" cy="4.2" rx="3.8" ry="3" fill="#58B0E0"/>
<circle cx="150.5" cy="12.6" r="4.1" fill="#E02810"/>
<rect x="148.9" y="11" width="3.2" height="3.2" fill="#FFF"/>
<text x="158.5" y="12.3" font-size="12" fill="#000" stroke="#000" stroke-width="0.3" font-family="Liberation Sans, 'Noto Sans CJK SC', sans-serif" >自动交易</text>
<rect x="214" y="0" width="1" height="19" fill="#A0A0A0" shape-rendering="crispEdges"/>
<rect x="215" y="0" width="1" height="19" fill="#FFFFFF" shape-rendering="crispEdges"/>
<g shape-rendering="crispEdges">
<rect x="218" y="1" width="3" height="1" fill="#A8A8A8"/>
<rect x="218" y="3" width="3" height="1" fill="#A8A8A8"/>
<rect x="218" y="5" width="3" height="1" fill="#A8A8A8"/>
<rect x="218" y="7" width="3" height="1" fill="#A8A8A8"/>
<rect x="218" y="9" width="3" height="1" fill="#A8A8A8"/>
<rect x="218" y="11" width="3" height="1" fill="#A8A8A8"/>
<rect x="218" y="13" width="3" height="1" fill="#A8A8A8"/>
<rect x="218" y="15" width="3" height="1" fill="#A8A8A8"/>
<rect x="218" y="17" width="3" height="1" fill="#A8A8A8"/>
</g>
<g stroke="#555" stroke-width="1.1" fill="#555"><line x1="232.5" y1="3.5" x2="232.5" y2="16.8"/><line x1="230.0" y1="14.5" x2="242.5" y2="14.5"/><polygon points="232.5,2.6 230.8,5 234.2,5" stroke="none"/><polygon points="244.1,14.5 241.7,12.9 241.7,16.1" stroke="none"/></g>
<path d="M238.7 4.5 V12.5 M238.7 5.5 H241 M238.7 11.5 H236.3" stroke="#109010" stroke-width="1.3" fill="none"/>
<g shape-rendering="crispEdges">
<rect x="253" y="0" width="24" height="19" fill="url(#chk)"/>
<rect x="252" y="0" width="1" height="19" fill="#808080"/>
<rect x="277" y="0" width="1" height="20" fill="#FFFFFF"/>
<rect x="252" y="19" width="26" height="1" fill="#FFFFFF"/>
</g>
<g stroke="#555" stroke-width="1.1" fill="#555"><line x1="260.5" y1="3.5" x2="260.5" y2="16.8"/><line x1="258.0" y1="14.5" x2="270.5" y2="14.5"/><polygon points="260.5,2.6 258.8,5 262.2,5" stroke="none"/><polygon points="272.1,14.5 269.7,12.9 269.7,16.1" stroke="none"/></g>
<line x1="266.5" y1="1" x2="266.5" y2="12.7" stroke="#109010" stroke-width="1.1"/>
<rect x="264.5" y="3.5" width="4" height="7" fill="url(#grn)" stroke="#109010" stroke-width="1"/>
<g stroke="#555" stroke-width="1.1" fill="#555"><line x1="288.5" y1="3.5" x2="288.5" y2="16.8"/><line x1="286.0" y1="14.5" x2="298.5" y2="14.5"/><polygon points="288.5,2.6 286.8,5 290.2,5" stroke="none"/><polygon points="300.1,14.5 297.7,12.9 297.7,16.1" stroke="none"/></g>
<path d="M287 11.5 Q290.5 5.5 293 6 Q295.5 6.5 298.6 10" stroke="#209020" stroke-width="1.2" fill="none"/>
<rect x="309" y="0" width="1" height="19" fill="#A0A0A0" shape-rendering="crispEdges"/>
<rect x="310" y="0" width="1" height="19" fill="#FFFFFF" shape-rendering="crispEdges"/>
<line x1="328.4" y1="11.3" x2="333.4" y2="16.3" stroke="#B08810" stroke-width="3.4"/>
<line x1="328.4" y1="11.3" x2="333.2" y2="16.1" stroke="#F0D030" stroke-width="2"/>
<circle cx="323.9" cy="6.9" r="5.7" fill="#D4EEFA" stroke="#2C7CC0" stroke-width="1.1"/>
<line x1="320.9" y1="6.9" x2="326.9" y2="6.9" stroke="#3880A8" stroke-width="1.6"/>
<line x1="323.9" y1="3.9" x2="323.9" y2="9.9" stroke="#3880A8" stroke-width="1.6"/>
<line x1="356.5" y1="11.3" x2="361.5" y2="16.3" stroke="#B08810" stroke-width="3.4"/>
<line x1="356.5" y1="11.3" x2="361.3" y2="16.1" stroke="#F0D030" stroke-width="2"/>
<circle cx="352" cy="6.9" r="5.7" fill="#D4EEFA" stroke="#2C7CC0" stroke-width="1.1"/>
<line x1="349" y1="6.9" x2="355" y2="6.9" stroke="#3880A8" stroke-width="1.6"/>
<rect x="374" y="1" width="8" height="8" fill="#2E9A1E"/>
<rect x="375" y="4" width="6" height="4" fill="#FFFFFF"/>
<rect x="375" y="2" width="1" height="1" fill="#FFFFFF" fill-opacity="0.8"/>
<rect x="376" y="5" width="4" height="1" fill="#2E9A1E" fill-opacity="0.4"/>
<rect x="376" y="7.2" width="4" height="0.8" fill="#2E9A1E" fill-opacity="0.55"/>
<rect x="382" y="1" width="8" height="8" fill="#2050C8"/>
<rect x="383" y="4" width="6" height="4" fill="#FFFFFF"/>
<rect x="383" y="2" width="1" height="1" fill="#FFFFFF" fill-opacity="0.8"/>
<rect x="384" y="5" width="4" height="1" fill="#2050C8" fill-opacity="0.4"/>
<rect x="384" y="7.2" width="4" height="0.8" fill="#2050C8" fill-opacity="0.55"/>
<rect x="374" y="9" width="8" height="8" fill="#2050C8"/>
<rect x="375" y="12" width="6" height="4" fill="#FFFFFF"/>
<rect x="375" y="10" width="1" height="1" fill="#FFFFFF" fill-opacity="0.8"/>
<rect x="376" y="13" width="4" height="1" fill="#2050C8" fill-opacity="0.4"/>
<rect x="376" y="15.2" width="4" height="0.8" fill="#2050C8" fill-opacity="0.55"/>
<rect x="382" y="9" width="8" height="8" fill="#2E9A1E"/>
<rect x="383" y="12" width="6" height="4" fill="#FFFFFF"/>
<rect x="383" y="10" width="1" height="1" fill="#FFFFFF" fill-opacity="0.8"/>
<rect x="384" y="13" width="4" height="1" fill="#2E9A1E" fill-opacity="0.4"/>
<rect x="384" y="15.2" width="4" height="0.8" fill="#2E9A1E" fill-opacity="0.55"/>
<rect x="399" y="0" width="1" height="19" fill="#A0A0A0" shape-rendering="crispEdges"/>
<rect x="400" y="0" width="1" height="19" fill="#FFFFFF" shape-rendering="crispEdges"/>
<g shape-rendering="crispEdges">
<rect x="405" y="0" width="24" height="19" fill="url(#chk)"/>
<rect x="404" y="0" width="1" height="19" fill="#808080"/>
<rect x="429" y="0" width="1" height="20" fill="#FFFFFF"/>
<rect x="404" y="19" width="26" height="1" fill="#FFFFFF"/>
</g>
<g stroke="#555" stroke-width="1.1" fill="#555"><line x1="412.5" y1="3.5" x2="412.5" y2="16.8"/><line x1="410.0" y1="14.5" x2="422.5" y2="14.5"/><polygon points="412.5,2.6 410.8,5 414.2,5" stroke="none"/><polygon points="424.1,14.5 421.7,12.9 421.7,16.1" stroke="none"/></g>
<polygon points="417,5 421.3,8.5 417,12" fill="#60E060" stroke="#109010" stroke-width="1"/>
<g shape-rendering="crispEdges">
<rect x="433" y="0" width="24" height="19" fill="url(#chk)"/>
<rect x="432" y="0" width="1" height="19" fill="#808080"/>
<rect x="457" y="0" width="1" height="20" fill="#FFFFFF"/>
<rect x="432" y="19" width="26" height="1" fill="#FFFFFF"/>
</g>
<g stroke="#555" stroke-width="1.1" fill="#555"><line x1="440.5" y1="3.5" x2="440.5" y2="16.8"/><line x1="438.0" y1="14.5" x2="450.5" y2="14.5"/><polygon points="440.5,2.6 438.8,5 442.2,5" stroke="none"/><polygon points="452.1,14.5 449.7,12.9 449.7,16.1" stroke="none"/></g>
<line x1="446.5" y1="3" x2="446.5" y2="12.5" stroke="#2070C0" stroke-width="1.2"/>
<path d="M452 8.5 H448 M450.3 6.5 L447.8 8.5 L450.3 10.5" stroke="#E04808" stroke-width="1.3" fill="#E04808"/>
<rect x="461" y="0" width="1" height="19" fill="#A0A0A0" shape-rendering="crispEdges"/>
<rect x="462" y="0" width="1" height="19" fill="#FFFFFF" shape-rendering="crispEdges"/>
<path d="M471.5 2 H480 L483 5 V14.5 H471.5 Z" fill="#FCFCFC" stroke="#A0A0A0" stroke-width="0.9"/>
<path d="M476 4.5 Q474 4.5 474.2 7 V12 M472.8 8 H475.8" stroke="#605030" stroke-width="1" fill="none"/>
<path d="M479.4 7.3 H482.8 V11.1 H486.8 V14.5 H482.8 V18.5 H479.4 V14.5 H475.4 V11.1 H479.4 Z" fill="url(#grn)" stroke="#089008" stroke-width="0.9"/>
<polygon points="493,8 499,8 496,11.2" fill="#000"/>
<circle cx="517" cy="8.8" r="7" fill="#FFFFFF" stroke="url(#blu)" stroke-width="2.2"/>
<path d="M516.5 4.5 V9 H520" stroke="#101010" stroke-width="1.2" fill="none"/>
<polygon points="532,8 538,8 535,11.2" fill="#000"/>
<rect x="548.5" y="2.5" width="15" height="13" fill="#FFFFFF" stroke="#3C7CC8" stroke-width="1"/>
<rect x="549" y="3" width="14" height="2" fill="#4C90D8"/>
<rect x="549" y="9.5" width="14" height="0.8" fill="#3C7CC8"/>
<path d="M550.5 8.3 H552.5 L553.5 7.2 H555 L556 6.3 H557.5 L558.5 7.3 H560 L561 6.3 H562" stroke="#A02808" stroke-width="1.1" fill="none"/>
<path d="M551 13.5 H552.5 L553.5 12.6 H555 L556 13.4 H557 L559 11.2 L561.5 13.6" stroke="#109020" stroke-width="1.1" fill="none"/>
<polygon points="571,8 577,8 574,11.2" fill="#000"/>
<rect x="582" y="0" width="1" height="19" fill="#A0A0A0" shape-rendering="crispEdges"/>
<rect x="583" y="0" width="1" height="19" fill="#FFFFFF" shape-rendering="crispEdges"/>
<g shape-rendering="crispEdges">
<rect x="586" y="1" width="3" height="1" fill="#A8A8A8"/>
<rect x="586" y="3" width="3" height="1" fill="#A8A8A8"/>
<rect x="586" y="5" width="3" height="1" fill="#A8A8A8"/>
<rect x="586" y="7" width="3" height="1" fill="#A8A8A8"/>
<rect x="586" y="9" width="3" height="1" fill="#A8A8A8"/>
<rect x="586" y="11" width="3" height="1" fill="#A8A8A8"/>
<rect x="586" y="13" width="3" height="1" fill="#A8A8A8"/>
<rect x="586" y="15" width="3" height="1" fill="#A8A8A8"/>
<rect x="586" y="17" width="3" height="1" fill="#A8A8A8"/>
</g>
<g shape-rendering="crispEdges">
<rect x="593" y="0" width="24" height="19" fill="url(#chk)"/>
<rect x="592" y="0" width="1" height="19" fill="#808080"/>
<rect x="617" y="0" width="1" height="20" fill="#FFFFFF"/>
<rect x="592" y="19" width="26" height="1" fill="#FFFFFF"/>
</g>
<polygon points="600,2 600,13 602.6,10.6 605,15.8 606.6,15 604.3,10 607.8,9.7" fill="#4A4A4A"/>
<path d="M632.5 2 V8 M632.5 11 V17 M625 9.5 H631 M634 9.5 H640" stroke="#4A4A4A" stroke-width="1.2" fill="none"/>
<rect x="632" y="9" width="1" height="1" fill="#4A4A4A"/>
<rect x="649" y="0" width="1" height="19" fill="#A0A0A0" shape-rendering="crispEdges"/>
<path d="M666.5 3 V16 M689 9.5 H701 M717 15.6 L729 3.8" stroke="#4A4A4A" stroke-width="1.2" fill="none"/>
<path d="M743 11 L752 3 M745 15.5 L757 5.5 M749.5 16 L758 8.5" stroke="#4A4A4A" stroke-width="1.1" fill="none"/>
<path d="M746.5 8 L745.5 14.5 M749.5 5.5 L748.5 13 M752.5 4 L751.5 11 M755 1.5 L754.5 9" stroke="#4A4A4A" stroke-width="0.9" fill="none"/>
<text x="754" y="18" font-size="6.5" fill="#303030" font-family="Liberation Sans, sans-serif" font-weight="bold">E</text>
<g stroke="#4A4A4A" stroke-width="1" stroke-dasharray="1 1" shape-rendering="crispEdges"><line x1="772" y1="2.5" x2="786" y2="2.5"/><line x1="772" y1="5.5" x2="786" y2="5.5"/><line x1="772" y1="9.5" x2="786" y2="9.5"/><line x1="772" y1="13.5" x2="781" y2="13.5"/></g>
<text x="782" y="18" font-size="6.5" fill="#303030" font-family="Liberation Sans, sans-serif" font-weight="bold">F</text>
<text x="802.7" y="14" font-size="12" fill="#4A4A4A" stroke="#4A4A4A" stroke-width="0.15" font-family="Liberation Sans, sans-serif" >A</text>
<rect x="829.5" y="3.5" width="11" height="12" fill="none" stroke="#4A4A4A" stroke-width="1" stroke-dasharray="1 1" shape-rendering="crispEdges"/>
<path d="M831.5 6.5 H838.5 M835 6.5 V13.5" stroke="#4A4A4A" stroke-width="1.3" fill="none"/>
<polygon points="859.6,2.5 863.5,6 859.6,7.8 855.8,6" fill="#4A4A4A"/>
<polygon points="866.4,16 870.2,12.4 866.4,10.6 862.6,12.4" fill="#4A4A4A"/>
<path d="M858.5 10.5 L860.5 12.5 L864.5 7.5" stroke="#4A4A4A" stroke-width="1.2" fill="none"/>
<polygon points="877,8 883,8 880,11.2" fill="#000"/>
<rect x="888" y="0" width="1" height="19" fill="#A0A0A0" shape-rendering="crispEdges"/>
<rect x="889" y="0" width="1" height="19" fill="#FFFFFF" shape-rendering="crispEdges"/>
<g shape-rendering="crispEdges">
<rect x="892" y="1" width="3" height="1" fill="#A8A8A8"/>
<rect x="892" y="3" width="3" height="1" fill="#A8A8A8"/>
<rect x="892" y="5" width="3" height="1" fill="#A8A8A8"/>
<rect x="892" y="7" width="3" height="1" fill="#A8A8A8"/>
<rect x="892" y="9" width="3" height="1" fill="#A8A8A8"/>
<rect x="892" y="11" width="3" height="1" fill="#A8A8A8"/>
<rect x="892" y="13" width="3" height="1" fill="#A8A8A8"/>
<rect x="892" y="15" width="3" height="1" fill="#A8A8A8"/>
<rect x="892" y="17" width="3" height="1" fill="#A8A8A8"/>
</g>
<text x="904" y="12.6" font-size="9" fill="#3C3C3C" stroke="#3C3C3C" stroke-width="0.12" font-family="Liberation Sans, sans-serif" >M1</text>
<text x="932" y="12.6" font-size="9" fill="#3C3C3C" stroke="#3C3C3C" stroke-width="0.12" font-family="Liberation Sans, sans-serif" >M5</text>
<text x="957.5" y="12.6" font-size="9" fill="#3C3C3C" stroke="#3C3C3C" stroke-width="0.12" font-family="Liberation Sans, sans-serif" >M15</text>
<text x="985.5" y="12.6" font-size="9" fill="#3C3C3C" stroke="#3C3C3C" stroke-width="0.12" font-family="Liberation Sans, sans-serif" >M30</text>
<text x="1017" y="12.6" font-size="9" fill="#3C3C3C" stroke="#3C3C3C" stroke-width="0.12" font-family="Liberation Sans, sans-serif" >H1</text>
<g shape-rendering="crispEdges">
<rect x="1039" y="0" width="24" height="19" fill="url(#chk)"/>
<rect x="1038" y="0" width="1" height="19" fill="#808080"/>
<rect x="1063" y="0" width="1" height="20" fill="#FFFFFF"/>
<rect x="1038" y="19" width="26" height="1" fill="#FFFFFF"/>
</g>
<text x="1044" y="12.6" font-size="9" fill="#3C3C3C" stroke="#3C3C3C" stroke-width="0.12" font-family="Liberation Sans, sans-serif" >H4</text>
<text x="1072.5" y="12.6" font-size="9" fill="#3C3C3C" stroke="#3C3C3C" stroke-width="0.12" font-family="Liberation Sans, sans-serif" >D1</text>
<text x="1100.5" y="12.6" font-size="9" fill="#3C3C3C" stroke="#3C3C3C" stroke-width="0.12" font-family="Liberation Sans, sans-serif" >W1</text>
<text x="1127" y="12.6" font-size="9" fill="#3C3C3C" stroke="#3C3C3C" stroke-width="0.12" font-family="Liberation Sans, sans-serif" >MN</text>
<rect x="1149" y="0" width="1" height="19" fill="#A0A0A0" shape-rendering="crispEdges"/>
<rect x="1150" y="0" width="1" height="19" fill="#FFFFFF" shape-rendering="crispEdges"/>
<line x1="1611.5" y1="14" x2="1616.8" y2="9.3" stroke="#2058C8" stroke-width="2.4" stroke-linecap="round"/>
<circle cx="1619.7" cy="6.4" r="4" fill="#F8F8FF" stroke="#2860D0" stroke-width="1.3"/>
<path d="M1636.3 10.8 a5.3 4.8 0 1 1 4.5 4.7 l-1.8 2 l-0.2 -2.4 a5 5 0 0 1 -2.5 -4.3 z" fill="#E8E8EE" stroke="#A8A8A8" stroke-width="1.2"/>
<circle cx="1650.5" cy="6.5" r="8.2" fill="url(#redb)"/>
<text x="1646.8" y="11.2" font-size="13" fill="#FFF" font-family="Liberation Serif, serif" font-weight="bold">1</text>
</svg>
</body>
</html>
